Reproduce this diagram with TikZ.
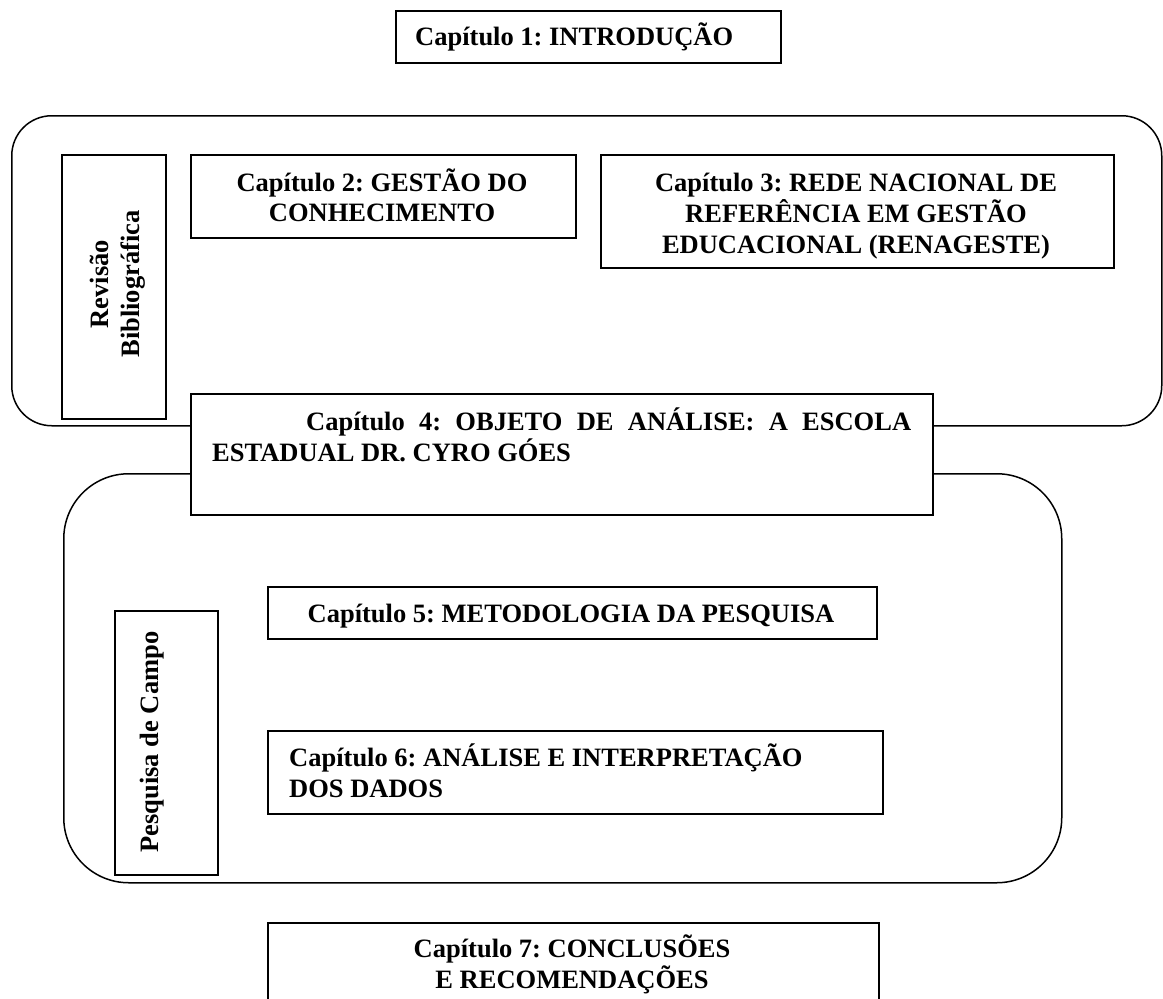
\documentclass[tikz,border=0pt]{standalone}
\usepackage{fontspec}
\setmainfont{Liberation Serif}
\frenchspacing
\begin{document}
\begin{tikzpicture}[x=1pt,y=-1pt,
  box/.style={draw, line width=1.6pt, inner sep=0pt, anchor=north west, fill=white},
  rbox/.style={draw, line width=1.5pt, inner sep=0pt, anchor=north west},
  txt/.style={font=\bfseries\fontsize{26.5}{31.5}\selectfont, inner sep=0pt}]
\useasboundingbox (0,0) rectangle (1163,999);
\fill[white] (0,0) rectangle (1163,999);
\clip (0,0) rectangle (1163,999);
% large rounded frames
\node[rbox, rounded corners=40pt, minimum width=1150pt, minimum height=310pt] (rb1) at (11,115) {};
\node[rbox, rounded corners=65pt, minimum width=998pt, minimum height=409pt] (rb2) at (63,473) {};
% boxes
\node[box, minimum width=385pt, minimum height=52pt] (ch1) at (395,10) {};
\node[box, minimum width=104pt, minimum height=264pt] (rev) at (61,154) {};
\node[box, minimum width=385pt, minimum height=83pt] (ch2) at (190,154) {};
\node[box, minimum width=513pt, minimum height=113pt] (ch3) at (600,154) {};
\node[box, minimum width=742pt, minimum height=121pt] (ch4) at (190,393) {};
\node[box, minimum width=103pt, minimum height=264pt] (pes) at (114,610) {};
\node[box, minimum width=609pt, minimum height=52pt] (ch5) at (267,586) {};
\node[box, minimum width=615pt, minimum height=83pt] (ch6) at (267,730) {};
\node[box, minimum width=611pt, minimum height=100pt] (ch7) at (267,922) {};
% texts
\node[txt, anchor=base west] (ch1t) at (415,45) {Capítulo 1: INTRODUÇÃO};
\node[txt, anchor=base] (ch2a) at (382,191) {Capítulo 2: GESTÃO DO};
\node[txt, anchor=base] (ch2b) at (382,221.5) {CONHECIMENTO};
\node[txt, anchor=base] (ch3a) at (856,191) {Capítulo 3: REDE NACIONAL DE};
\node[txt, anchor=base] (ch3b) at (856,222) {REFERÊNCIA EM GESTÃO};
\node[txt, anchor=base] (ch3c) at (856,253) {EDUCACIONAL (RENAGESTE)};
\node[txt, anchor=base, rotate=90] (reva) at (108,284) {Revisão};
\node[txt, anchor=base, rotate=90] (revb) at (139,284) {Bibliográfica};
\node[txt, anchor=base west] (ch4a) at (306,430) {\makebox[605pt][s]{Capítulo 4: OBJETO DE ANÁLISE: A ESCOLA}};
\node[txt, anchor=base west] (ch4b) at (212,461.5) {ESTADUAL DR. CYRO GÓES};
\node[txt, anchor=base, rotate=90] (pest) at (158,742) {Pesquisa de Campo};
\node[txt, anchor=base] (ch5t) at (571,622) {Capítulo 5: METODOLOGIA DA PESQUISA};
\node[txt, anchor=base west] (ch6a) at (289,766) {Capítulo 6: ANÁLISE E INTERPRETAÇÃO};
\node[txt, anchor=base west] (ch6b) at (289,797.5) {DOS DADOS};
\node[txt, anchor=base] (ch7a) at (572,957) {Capítulo 7: CONCLUSÕES};
\node[txt, anchor=base] (ch7b) at (572,988) {E RECOMENDAÇÕES};
\end{tikzpicture}
\end{document}
